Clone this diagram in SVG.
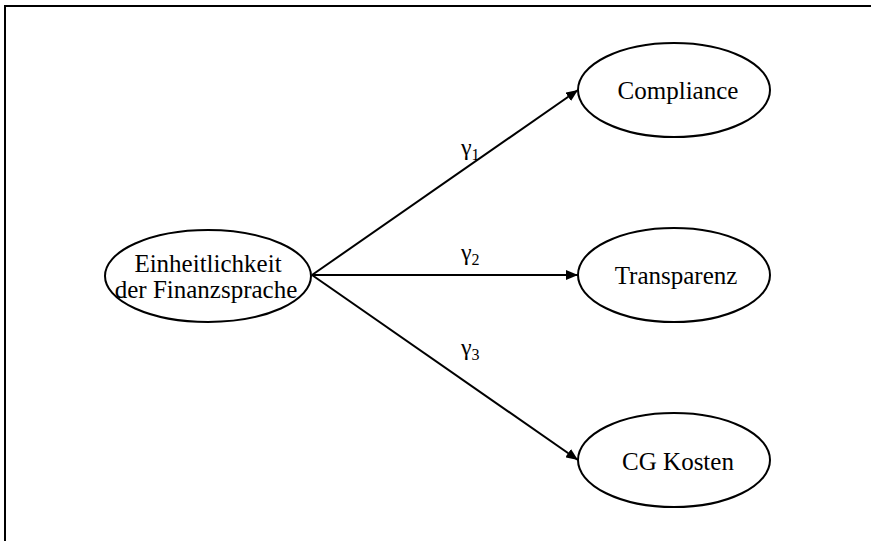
<svg xmlns="http://www.w3.org/2000/svg" width="871" height="541" viewBox="0 0 871 541">
<style>
.node{fill:#fff;stroke:#000;stroke-width:2}
.lbl{font-family:"Liberation Serif","Times New Roman",serif;font-size:25px;fill:#000;text-anchor:middle}
.g{font-family:"Liberation Serif","Times New Roman",serif;font-size:24px;fill:#000}
.sub{font-size:16px}
.edge{stroke:#000;stroke-width:2;fill:none;marker-end:url(#arr)}
</style>
<defs>
<marker id="arr" viewBox="0 0 12 10" refX="12" refY="5" markerWidth="12" markerHeight="10" markerUnits="userSpaceOnUse" orient="auto">
<path d="M0,0 L12,5 L0,10 Z" fill="#000"/>
</marker>
</defs>
<rect width="871" height="541" fill="#fff"/>
<path d="M5,541 V6 H871" fill="none" stroke="#000" stroke-width="2"/>
<g id="connectors">
<line class="edge" x1="312" y1="275" x2="578" y2="90"/>
<line class="edge" x1="312" y1="275" x2="578" y2="275"/>
<line class="edge" x1="312" y1="275" x2="578" y2="460"/>
<text class="g" x="461" y="155">γ<tspan class="sub" dy="5">1</tspan></text>
<text class="g" x="461" y="260">γ<tspan class="sub" dy="5">2</tspan></text>
<text class="g" x="461" y="355">γ<tspan class="sub" dy="5">3</tspan></text>
</g>
<g id="source">
<ellipse class="node" cx="208" cy="276" rx="103" ry="46"/>
<text class="lbl" x="208" y="272">Einheitlichkeit</text>
<text class="lbl" x="206" y="298">der Finanzsprache</text>
</g>
<g id="compliance">
<ellipse class="node" cx="674" cy="90" rx="96" ry="47"/>
<text class="lbl" x="678" y="99">Compliance</text>
</g>
<g id="transparenz">
<ellipse class="node" cx="674" cy="275" rx="96" ry="47"/>
<text class="lbl" x="676" y="284">Transparenz</text>
</g>
<g id="cgkosten">
<ellipse class="node" cx="674" cy="460" rx="96" ry="47"/>
<text class="lbl" x="678" y="470">CG Kosten</text>
</g>
</svg>
